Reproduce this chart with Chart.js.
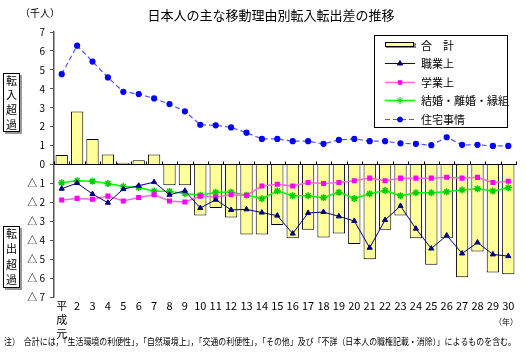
<!DOCTYPE html>
<html><head><meta charset="utf-8">
<script src="https://cdn.jsdelivr.net/npm/chart.js@4/dist/chart.umd.min.js"></script>
<style>html,body{margin:0;padding:0;background:#fff}#wrap{width:525px;height:355px}</style>
</head><body><div id="wrap"><canvas id="c" width="525" height="355"></canvas></div>
<script>
const categories = [['平','成','元'],'2','3','4','5','6','7','8','9','10','11','12','13','14','15','16','17','18','19','20','21','22','23','24','25','26','27','28','29','30'];
const total = [0.5,2.8,1.35,0.53,0.09,0.23,0.53,-1.1,-1.1,-2.7,-2.3,-2.8,-3.7,-3.7,-3.2,-3.9,-3.45,-3.85,-3.65,-4.2,-5.0,-3.45,-2.7,-3.9,-5.3,-3.9,-5.95,-4.6,-5.7,-5.8];
const work = [-1.28,-0.98,-1.56,-2.02,-1.3,-1.12,-0.93,-1.6,-1.39,-2.3,-1.86,-2.4,-2.37,-2.54,-2.7,-3.65,-2.56,-2.51,-2.74,-2.98,-4.4,-2.93,-2.19,-3.39,-4.44,-3.75,-4.7,-4.12,-4.75,-4.84];
const study = [-1.88,-1.79,-1.84,-1.67,-1.93,-1.74,-1.6,-1.93,-1.98,-1.68,-1.72,-1.6,-1.63,-1.14,-1.04,-1.14,-0.95,-1.0,-0.95,-0.86,-0.72,-0.86,-0.72,-0.72,-0.72,-0.67,-0.72,-0.68,-0.95,-0.88];
const marriage = [-0.96,-0.86,-0.88,-1.0,-1.16,-1.21,-1.4,-1.42,-1.53,-1.62,-1.47,-1.47,-1.63,-1.81,-1.4,-1.65,-1.65,-1.75,-1.46,-1.79,-1.55,-1.37,-1.65,-1.49,-1.49,-1.44,-1.35,-1.28,-1.4,-1.23];
const housing = [4.77,6.28,5.44,4.6,3.84,3.72,3.49,3.19,2.81,2.1,2.07,1.96,1.68,1.35,1.35,1.23,1.23,1.09,1.3,1.35,1.23,1.23,1.12,1.09,1.02,1.44,1.04,1.04,0.98,0.98];
const seriesNames = ['合　計','職業上','学業上','結婚・離婚・縁組','住宅事情'];
const yTicks = [-7,-6,-5,-4,-3,-2,-1,0,1,2,3,4,5,6,7];

const FONT = '"Noto Sans CJK JP","Noto Sans",sans-serif';

const deco = {
  id:'deco',
  afterDraw(chart){
    const ctx = chart.ctx, x = chart.scales.x, y = chart.scales.y;
    ctx.save();
    ctx.fillStyle='#000';
    ctx.textBaseline='middle';
    ctx.font='13px '+FONT; ctx.textAlign='center';
    ctx.fillText('日本人の主な移動理由別転入転出差の推移',271,15);
    ctx.font='10px '+FONT;
    ctx.fillText('（千人）',40,13);
    const y0 = y.getPixelForValue(0);
    ctx.strokeStyle='#000'; ctx.lineWidth=1;
    const w = (x.getPixelForValue(1)-x.getPixelForValue(0));
    for(let i=0;i<=categories.length;i++){
      const px = Math.round(x.getPixelForValue(0)-w/2+i*w)+0.5;
      ctx.beginPath(); ctx.moveTo(px,y0-3); ctx.lineTo(px,y0+0.5); ctx.stroke();
    }
    function vbox(top,bottom,chars){
      ctx.fillStyle='#999'; ctx.fillRect(5,top+2,17,bottom-top);
      ctx.fillStyle='#fff'; ctx.fillRect(3,top,17,bottom-top);
      ctx.strokeStyle='#000'; ctx.strokeRect(3.5,top+0.5,16,bottom-top-1);
      ctx.fillStyle='#000'; ctx.font='11px '+FONT; ctx.textAlign='center';
      const step=(bottom-top)/chars.length;
      chars.forEach((c,i)=>ctx.fillText(c,11.5,top+step*(i+0.5)));
    }
    vbox(73,132,['転','入','超','過']);
    vbox(226,288,['転','出','超','過']);
    ctx.fillStyle='#fff'; ctx.fillRect(374,35,134,93);
    ctx.strokeStyle='#000'; ctx.strokeRect(374.5,35.5,133,92);
    const ys=[45,63,82,100,119];
    const ds = chart.data.datasets;
    ctx.font='11px '+FONT; ctx.textAlign='left';
    ys.forEach((ly,i)=>{
      const d = ds[i];
      if(i===0){
        ctx.fillStyle='#888'; ctx.fillRect(386,ly-2,30,5);
        ctx.fillStyle=d.backgroundColor; ctx.fillRect(385,ly-3,29,5);
        ctx.strokeStyle='#000'; ctx.strokeRect(385.5,ly-2.5,28,4);
      } else {
        ctx.strokeStyle=d.borderColor; ctx.lineWidth=d.borderWidth;
        ctx.setLineDash(d.borderDash||[]);
        ctx.beginPath(); ctx.moveTo(385,ly+0.5); ctx.lineTo(415,ly+0.5); ctx.stroke();
        ctx.setLineDash([]); ctx.lineWidth=1;
        ctx.fillStyle=d.pointBackgroundColor; ctx.strokeStyle=d.pointBorderColor;
        Chart.helpers.drawPoint(ctx,{pointStyle:d.pointStyle,radius:d.pointRadius,borderWidth:1,rotation:0},400,ly+0.5);
      }
      ctx.fillStyle='#000';
      ctx.fillText(seriesNames[i],421,ly+1);
    });
    ctx.font='8px '+FONT; ctx.textAlign='center';
    ctx.fillText('（年）',506,322);
    ctx.textAlign='left'; ctx.font='9px '+FONT;
    ctx.fillText('注）　合計には，「生活環境の利便性」，「自然環境上」，「交通の利便性」，「その他」及び「不詳（日本人の職権記載・消除）」によるものを含む。',4,342,512);
    ctx.restore();
  }
};

new Chart(document.getElementById('c'),{
  data:{
    labels:categories,
    datasets:[
      {type:'bar',label:seriesNames[0],data:total,backgroundColor:'#FFFF99',borderColor:'#000',borderWidth:1,barPercentage:0.8,categoryPercentage:1,order:10},
      {type:'line',label:seriesNames[1],data:work,borderColor:'#000080',borderWidth:1,pointStyle:'triangle',pointRadius:3,pointBackgroundColor:'#000080',pointBorderColor:'#000080',tension:0,order:2},
      {type:'line',label:seriesNames[2],data:study,borderColor:'#FF66DD',borderWidth:1.5,pointStyle:'rect',pointRadius:2.5,pointBackgroundColor:'#FF00FF',pointBorderColor:'#FF00FF',tension:0,order:3},
      {type:'line',label:seriesNames[3],data:marriage,borderColor:'#00FF00',borderWidth:1.5,pointStyle:'star',pointRadius:3.5,pointBackgroundColor:'#00DD00',pointBorderColor:'#00CC00',tension:0,order:4},
      {type:'line',label:seriesNames[4],data:housing,borderColor:'#5555FF',borderWidth:1.2,borderDash:[5,3],pointStyle:'circle',pointRadius:2.5,pointBackgroundColor:'#0000FF',pointBorderColor:'#0000FF',tension:0,order:1}
    ]
  },
  options:{
    responsive:false,animation:false,
    layout:{padding:{top:32,right:9,left:0,bottom:0}},
    plugins:{legend:{display:false},tooltip:{enabled:false},title:{display:false}},
    scales:{
      x:{type:'category',offset:true,
        grid:{display:false,drawTicks:false},border:{display:false},
        ticks:{color:'#000',font:{size:11,family:FONT,lineHeight:1.25},padding:2,maxRotation:0,autoSkip:false},
        afterFit(s){s.height=58;}
      },
      y:{min:-7,max:7,
        afterBuildTicks(s){s.ticks=yTicks.map(v=>({value:v}));},
        ticks:{color:'#000',font:{size:10,family:FONT},padding:5,callback:v=>v<0?('△ '+(-v)):String(v)},
        grid:{color:c=>c.tick&&c.tick.value===0?'#000':'rgba(0,0,0,0)',tickColor:'#555',tickLength:4,drawTicks:true},
        border:{color:'#555',width:1.5},
        afterFit(s){s.width=54;}
      }
    }
  },
  plugins:[deco]
});
</script></body></html>
